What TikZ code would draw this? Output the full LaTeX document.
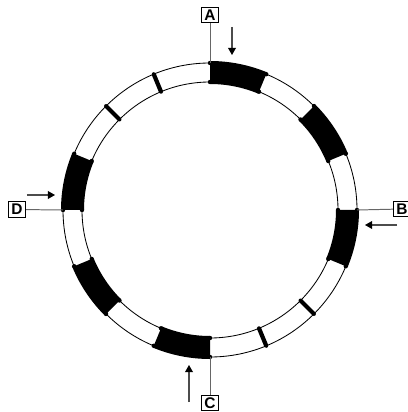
\documentclass[tikz,border=0pt]{standalone}
\usepackage{fontspec}
\setmainfont{Liberation Sans}
\usetikzlibrary{arrows.meta,positioning}

\begin{document}
\begin{tikzpicture}[x=0.025cm,y=0.025cm,
    lbl/.style={draw,line width=0.6pt,inner sep=0pt,minimum width=0.43cm,minimum height=0.39cm,
        font=\bfseries\fontsize{11}{11}\selectfont},
    lead/.style={gray!80!black,line width=0.7pt},
    hint/.style={gray!60!black,line width=0.8pt,-{Triangle[black,length=5pt,width=5.5pt]}}]
    \useasboundingbox (-210,-202) rectangle (197,210);

    % Draw ring
    \draw[line width=0.6pt] (0,0) circle (147);
    \draw[line width=0.6pt] (0,0) circle (128);

    % Black blocks
    \foreach \a/\b in {67.5/90,22.5/45,-22.5/0,-112.5/-90,-157.5/-135,157.5/180} {
        \fill[black] (\a:126) arc (\a:\b:126) -- (\b:149) arc (\b:\a:149) -- cycle;
        \foreach \t in {\a,\b} {
            \fill (\t:128) circle (2.2);
            \fill (\t:147) circle (2.2);
        }
    }

    % Thin bars
    \foreach \t in {112.5,135,-45,-67.5} {
        \draw[line width=3pt] (\t:128) -- (\t:147);
        \fill (\t:128) circle (2);
        \fill (\t:147) circle (2);
    }

    % Labels and pointers
    \node[lbl] (A) at (0,195) {A};
    \node[lbl] (B) at (192,1) {B};
    \node[lbl] (C) at (0,-193) {C};
    \node[lbl] (D) at (-193,0.5) {D};

    \coordinate (ra) at (90:147);
    \coordinate (rb) at (0:147);
    \coordinate (rc) at (-90:147);
    \coordinate (rd) at (180:147);
    \draw[lead] (A) -- (ra);
    \draw[lead] (B) -- (rb);
    \draw[lead] (C) -- (rc);
    \draw[lead] (D) -- (rd);

    \coordinate (a1) at (22,183);  \coordinate (a2) at (22,155);
    \coordinate (b1) at (187,-15); \coordinate (b2) at (155,-15);
    \coordinate (c1) at (-21,-192); \coordinate (c2) at (-21,-155);
    \coordinate (d1) at (-183,15); \coordinate (d2) at (-155,15);
    \draw[hint] (a1) -- (a2);
    \draw[hint] (b1) -- (b2);
    \draw[hint] (c1) -- (c2);
    \draw[hint] (d1) -- (d2);
\end{tikzpicture}
\end{document}
